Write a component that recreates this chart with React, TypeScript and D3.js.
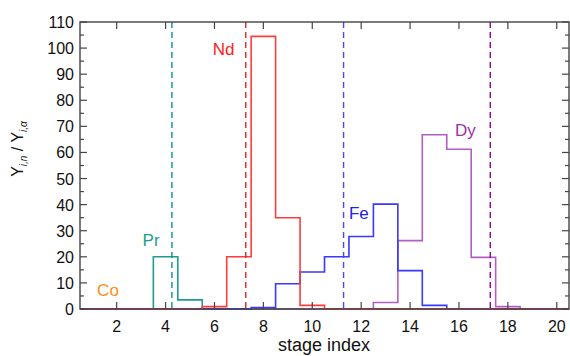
import React from "react";
import * as d3 from "d3";

const stages = d3.range(1, 21);
const coValues = [0, 0, 0, 0, 0, 0, 0, 0, 0, 0, 0, 0, 0, 0, 0, 0, 0, 0, 0, 0];
const prValues = [0, 0, 0, 20, 3.5, 0, 0, 0, 0, 0, 0, 0, 0, 0, 0, 0, 0, 0, 0, 0];
const ndValues = [0, 0, 0, 0, 0, 0.9, 20, 104.5, 35, 1.4, 0, 0, 0, 0, 0, 0, 0, 0, 0, 0];
const feValues = [0, 0, 0, 0, 0, 0, 0, 0.6, 9.7, 14.2, 20, 27.8, 40.2, 14.7, 1.4, 0, 0, 0, 0, 0];
const dyValues = [0, 0, 0, 0, 0, 0, 0, 0, 0, 0, 0, 0, 2.5, 26.2, 66.8, 61.2, 19.8, 0.9, 0, 0];

const seriesNames = ["Co", "Pr", "Dy", "Fe", "Nd"];
const meanStages = [null, 4.26, 17.28, 11.28, 7.28];
const labelX = [1.2, 3.06, 15.84, 11.5, 5.93];
const labelY = [4.8, 24, 66.4, 34.6, 97.5];

const xTicks = [2, 4, 6, 8, 10, 12, 14, 16, 18, 20];
const yTicks = [0, 10, 20, 30, 40, 50, 60, 70, 80, 90, 100, 110];
const yMinorTicks = [5, 15, 25, 35, 45, 55, 65, 75, 85, 95, 105];

const lineColors = ["#ff8c1a", "#1f9b90", "#b060c0", "#3838ff", "#ff3b3b"];
const dashColors = ["#ff8c1a", "#109090", "#900090", "#4848ff", "#e02828"];
const labelColors = ["#ff8c1a", "#1f9b90", "#a030a8", "#2020ee", "#ff2020"];

export default function App() {
  const W = 570, H = 356;
  const left = 80, right = 569, top = 22, bottom = 309;
  const x = d3.scaleLinear().domain([0.5, 20.5]).range([left, right]);
  const y = d3.scaleLinear().domain([0, 110]).range([bottom, top]);
  const all = [coValues, prValues, dyValues, feValues, ndValues];
  const line = d3
    .line<[number, number]>()
    .x((d) => x(d[0]))
    .y((d) => y(d[1]))
    .curve(d3.curveStepAfter);
  const axisColor = "#444";
  const font = "'Liberation Sans', Arial, sans-serif";

  return (
    <svg width={W} height={H} style={{ position: "absolute", left: 0, top: 0 }} fontFamily={font}>
      <rect x={0} y={0} width={W} height={H} fill="#fff" />
      {all.map((vals, i) => {
        const pts: [number, number][] = stages.map((s, j) => [s - 0.5, vals[j]]);
        pts.push([20.5, vals[vals.length - 1]]);
        return (
          <path key={"s" + i} d={line(pts) || ""} fill="none" stroke={lineColors[i]} strokeWidth={1.6} />
        );
      })}
      {meanStages.map((m, i) =>
        m == null ? null : (
          <line
            key={"m" + i}
            x1={x(m)}
            x2={x(m)}
            y1={top}
            y2={bottom}
            stroke={dashColors[i]}
            strokeWidth={1.4}
            strokeDasharray="6,4"
          />
        )
      )}
      {seriesNames.map((n, i) => (
        <text key={"l" + i} x={x(labelX[i])} y={y(labelY[i])} fill={labelColors[i]} fontSize={17}>
          {n}
        </text>
      ))}
      <rect x={left} y={top} width={right - left} height={bottom - top} fill="none" stroke={axisColor} strokeWidth={1.4} />
      {xTicks.map((t) => (
        <g key={"xt" + t}>
          <line x1={x(t)} x2={x(t)} y1={bottom} y2={bottom - 7} stroke={axisColor} strokeWidth={1.2} />
          <line x1={x(t)} x2={x(t)} y1={top} y2={top + 7} stroke={axisColor} strokeWidth={1.2} />
          <text x={x(t)} y={bottom + 23} textAnchor="middle" fontSize={16} fill="#111">
            {t}
          </text>
        </g>
      ))}
      {yTicks.map((t) => (
        <g key={"yt" + t}>
          <line x1={left} x2={left + 7} y1={y(t)} y2={y(t)} stroke={axisColor} strokeWidth={1.2} />
          <line x1={right} x2={right - 7} y1={y(t)} y2={y(t)} stroke={axisColor} strokeWidth={1.2} />
          <text x={left - 6} y={y(t) + 6} textAnchor="end" fontSize={16} fill="#111">
            {t}
          </text>
        </g>
      ))}
      {yMinorTicks.map((t) => (
        <g key={"ym" + t}>
          <line x1={left} x2={left + 4} y1={y(t)} y2={y(t)} stroke={axisColor} strokeWidth={1.2} />
          <line x1={right} x2={right - 4} y1={y(t)} y2={y(t)} stroke={axisColor} strokeWidth={1.2} />
        </g>
      ))}
      <text x={324} y={351} textAnchor="middle" fontSize={18} fill="#111">
        stage index
      </text>
      <text transform="translate(23,149) rotate(-90)" textAnchor="middle" fontSize={16} fill="#111">
        <tspan>Y</tspan>
        <tspan dy={4} fontSize={10} fontStyle="italic">i,n</tspan>
        <tspan dy={-4}> / Y</tspan>
        <tspan dy={4} fontSize={10} fontStyle="italic">i,α</tspan>
      </text>
    </svg>
  );
}
